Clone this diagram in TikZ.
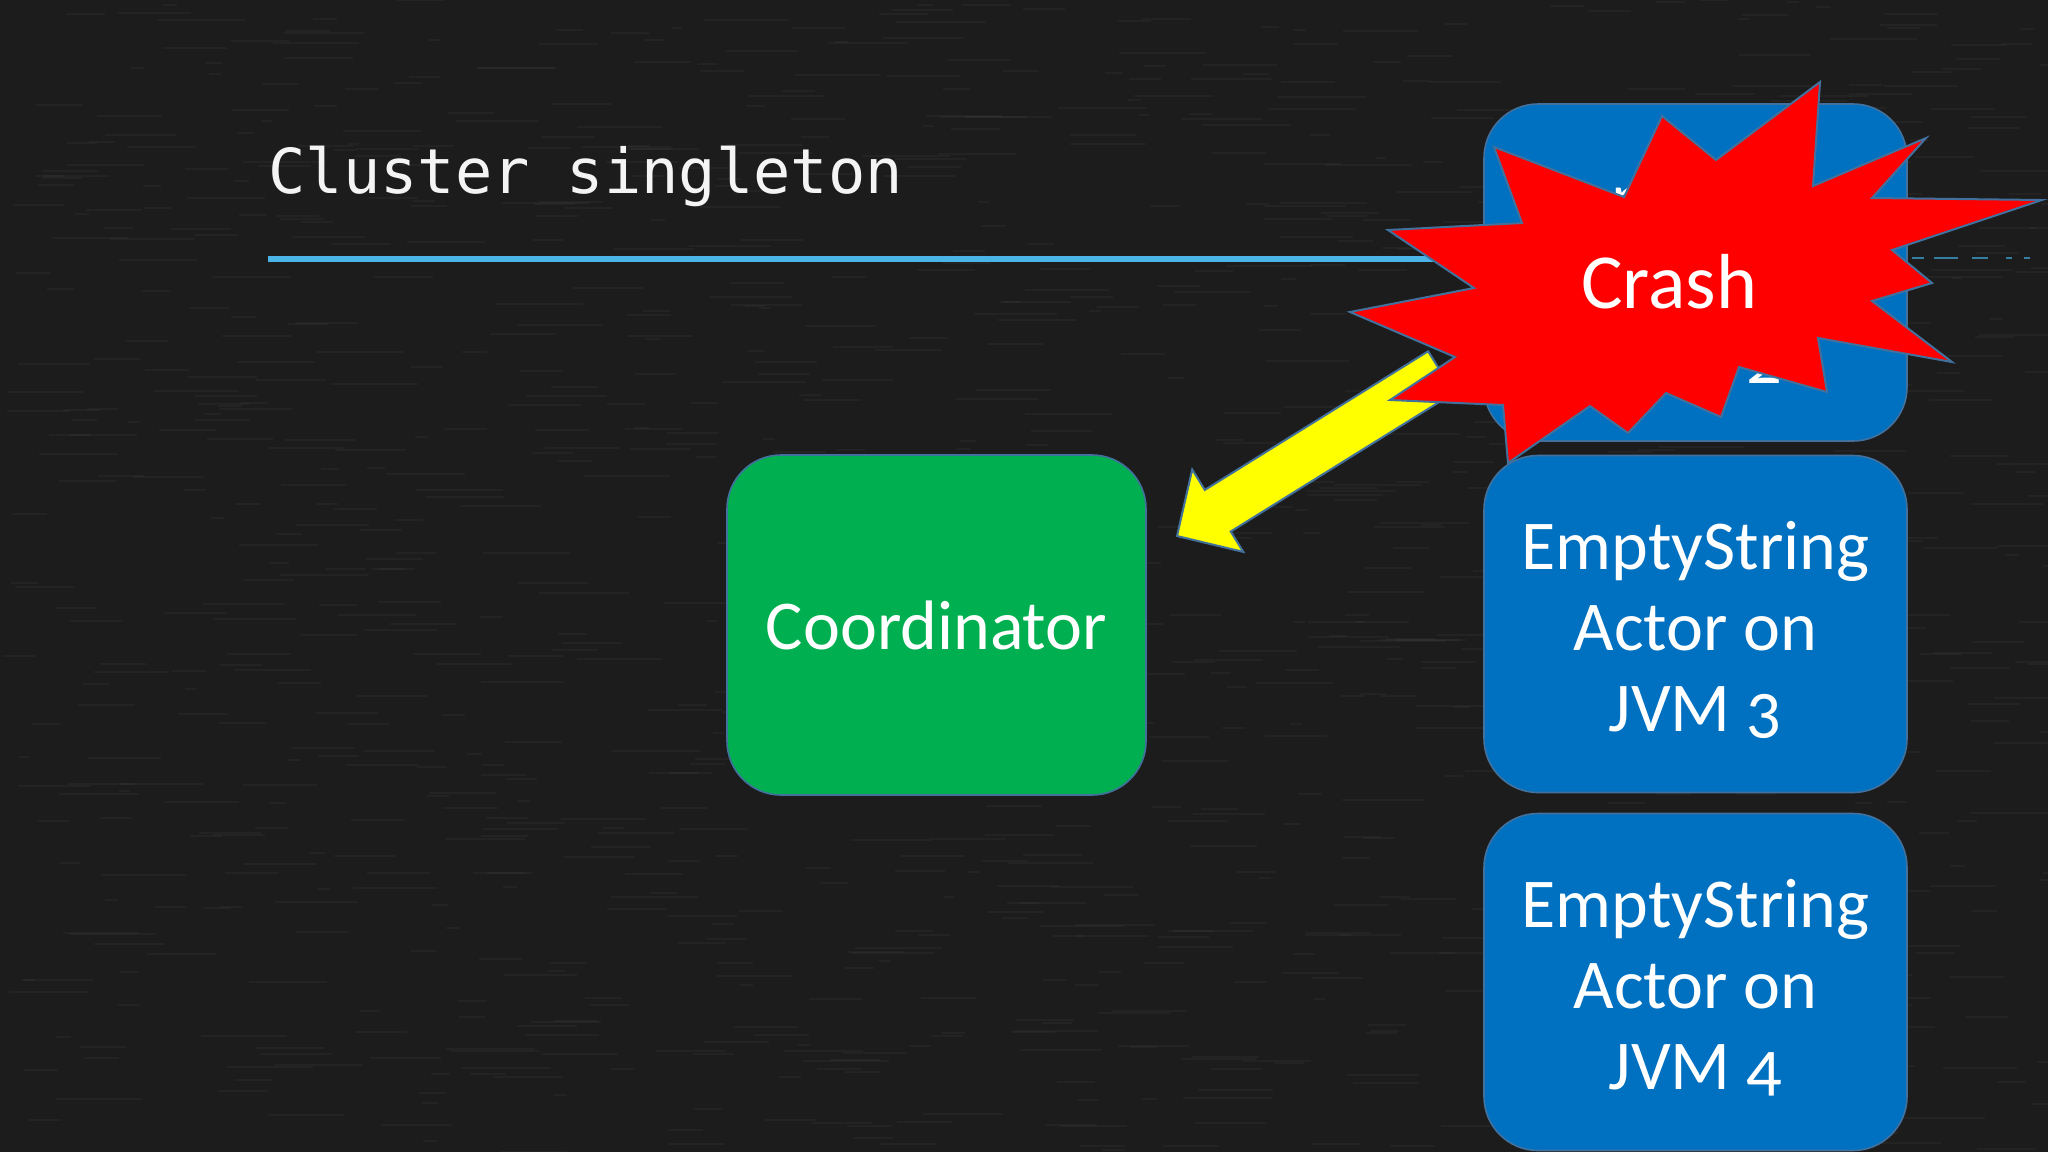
\documentclass[tikz,border=0pt]{standalone}
\usepackage{fontspec}
\setmainfont{Carlito}[Numbers=OldStyle]
\newfontfamily\titlefont{DejaVu Sans Mono}
\definecolor{bgc}{HTML}{1C1C1C}
\definecolor{boxblue}{HTML}{0070C0}
\definecolor{boxgreen}{HTML}{00B050}
\definecolor{edgec}{HTML}{41719C}
\definecolor{rulec}{HTML}{4BB4E6}
\definecolor{crashred}{HTML}{FF0000}
\definecolor{arrowyel}{HTML}{FFFF00}
\definecolor{titlewhite}{HTML}{F4F4F4}
\begin{document}
\begin{tikzpicture}[x=0.5pt,y=-0.5pt,
  block/.style={rectangle, rounded corners=27pt, draw=edgec, line width=0.8pt,
    inner sep=0pt, minimum width=211.5pt, minimum height=168.5pt},
  boxlabel/.style={text=white, align=center, inner sep=0pt,
    font=\fontsize{35pt}{40.5pt}\selectfont},
  worker/.style={block, fill=boxblue},
  coordbox/.style={block, fill=boxgreen, minimum width=209.5pt, minimum height=170pt,
    text=white, font=\fontsize{35pt}{40.5pt}\selectfont},
  burst/.style={fill=crashred, draw=edgec, line width=1pt, line join=miter},
  blockarrow/.style={fill=arrowyel, draw=edgec, line width=1pt, line join=miter},
  titletext/.style={anchor=base west, inner sep=0pt, text=titlewhite,
    font=\titlefont\fontsize{31pt}{31pt}\selectfont}]

% background
\fill[bgc] (0,0) rectangle (2048,1152);
\useasboundingbox (0,0) rectangle (2048,1152);
\pgfmathsetseed{7}
\foreach \i in {1,...,1100}{
  \pgfmathrandominteger{\xx}{0}{2048}
  \pgfmathrandominteger{\yy}{0}{1152}
  \pgfmathrandominteger{\ll}{10}{90}
  \draw[white, opacity=0.03, line width=1pt] (\xx,\yy) -- ++(\ll,0);
}

% title and rule
\node[titletext] (title) at (268,193) {Cluster singleton};
\coordinate (ruleL) at (268,259);
\coordinate (ruleR) at (1480,259);
\draw[rulec, line width=3pt] (ruleL) -- (ruleR);
\coordinate (dashL) at (1912,258);
\coordinate (dashR) at (2030,258);
\draw[rulec!70!black, line width=1.2pt,
  dash pattern=on 6pt off 5pt on 12pt off 7pt on 8pt off 9pt on 3pt off 6pt]
  (dashL) -- (dashR);

% boxes
\node[coordbox] (coord) at (936.5,625) {Coordinator};
\node[worker, label={[boxlabel, yshift=-3pt]center:EmptyString\\Actor on\\JVM 2}]
  (jvm2) at (1695.5,272.5) {};
\node[worker, label={[boxlabel, yshift=-3pt]center:EmptyString\\Actor on\\JVM 3}]
  (jvm3) at (1695.5,624) {};
\node[worker, label={[boxlabel, yshift=-3pt]center:EmptyString\\Actor on\\JVM 4}]
  (jvm4) at (1695.5,982) {};

% yellow block arrow
\coordinate (tip) at (1177,536);
\coordinate (barbA) at (1192.2,469.5);
\coordinate (shaftA) at (1204.8,489.9);
\coordinate (tailA) at (1428.1,351.3);
\coordinate (tailB) at (1453.9,392.9);
\coordinate (shaftB) at (1230.7,531.5);
\coordinate (barbB) at (1243.3,551.9);
\filldraw[blockarrow] (tip) -- (barbA) -- (shaftA) -- (tailA) -- (tailB)
  -- (shaftB) -- (barbB) -- cycle;

% crash burst
\filldraw[burst] (1820,82) -- (1813,186) -- (1926,138) -- (1872,198)
  -- (2042,200) -- (1892,250) -- (1932,283) -- (1872,301) -- (1952,362)
  -- (1818,338) -- (1827,392) -- (1739,367) -- (1721,417) -- (1666,393)
  -- (1628,433) -- (1590,406) -- (1508,463) -- (1503,405) -- (1390,400)
  -- (1455,357) -- (1350,312) -- (1474,288) -- (1388,230) -- (1522,223)
  -- (1494,147) -- (1624,197) -- (1662,116) -- (1716,160) -- cycle;
\node[text=white, inner sep=0pt, font=\fontsize{39pt}{39pt}\selectfont]
  (crash) at (1669,281.5) {Crash};
\end{tikzpicture}
\end{document}
